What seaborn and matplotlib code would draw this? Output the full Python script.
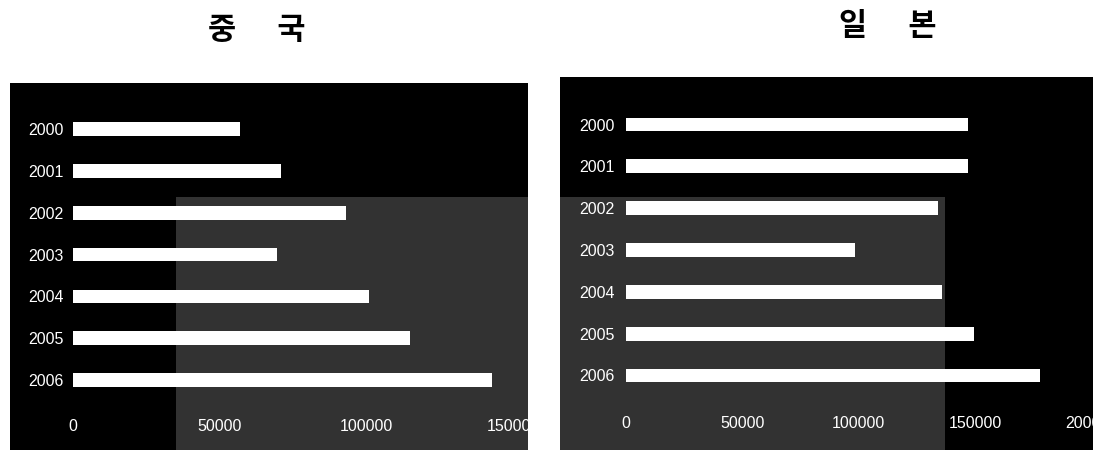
import matplotlib
matplotlib.use("Agg")
import matplotlib.pyplot as plt
import pandas as pd
import seaborn as sns
from matplotlib.patches import Rectangle

# Annual figures, 2000-2006
years = ["2000", "2001", "2002", "2003", "2004", "2005", "2006"]
china = [57000, 71000, 93000, 69500, 101000, 115000, 143000]
japan = [147000, 147000, 134000, 98500, 136000, 149500, 178000]

china_ticks = [0, 50000, 100000, 150000]
japan_ticks = [0, 50000, 100000, 150000, 200000]

title_china = "중      국"
title_japan = "일      본"

sns.set_theme(style="white")
plt.rcParams["font.family"] = ["Liberation Sans", "DejaVu Sans"]

W, H = 1093, 450
fig = plt.figure(figsize=(W / 100, H / 100), dpi=100)
fig.patch.set_facecolor("white")


def box(x0, y0, x1, y1):
    """Pixel box (top-left origin) -> figure fraction rect."""
    return [x0 / W, 1 - y1 / H, (x1 - x0) / W, (y1 - y0) / H]


# black chart areas behind each plot
for rect in (box(10, 83, 528, 450), box(560, 77, 1093, 450)):
    fig.add_artist(Rectangle(rect[:2], rect[2], rect[3], transform=fig.transFigure,
                             facecolor="black", edgecolor="none", zorder=-5))


def draw(ax, values, ticks, xmax, ypad, xpad):
    df = pd.DataFrame({"year": years, "value": values})
    sns.barplot(data=df, x="value", y="year", orient="h", color="white",
                saturation=1, width=0.33, linewidth=0, ax=ax)
    ax.set_xlim(0, xmax)
    ax.set_ylim(6.5, -0.5)
    ax.set_facecolor("none")
    for s in ax.spines.values():
        s.set_visible(False)
    ax.set_xticks(ticks)
    ax.set_xticklabels([str(t) for t in ticks])
    ax.set_xlabel("")
    ax.set_ylabel("")
    ax.grid(False)
    ax.tick_params(axis="both", colors="white", length=0, labelsize=11.5)
    ax.tick_params(axis="y", pad=ypad)
    ax.tick_params(axis="x", pad=xpad)


ax1 = fig.add_axes(box(73, 108.3, 513, 400.9))
draw(ax1, china, china_ticks, 150000, 6.5, 13)

ax2 = fig.add_axes(box(626, 103.6, 1091.4, 396.4))
draw(ax2, japan, japan_ticks, 200000, 8, 14)

fig.text(256.5 / W, 1 - 30 / H, title_china, ha="center", va="center",
         fontsize=22, fontweight="bold", family=["Noto Sans CJK KR", "DejaVu Sans"],
         color="black")
fig.text(887.5 / W, 1 - 26 / H, title_japan, ha="center", va="center",
         fontsize=22, fontweight="bold", family=["Noto Sans CJK KR", "DejaVu Sans"],
         color="black")

# light stamp band across the lower middle of the page
band = box(176, 197, 945, 450)
fig.add_artist(Rectangle(band[:2], band[2], band[3], transform=fig.transFigure,
                         facecolor="white", edgecolor="none", alpha=0.2, zorder=20))

fig.savefig("out.png", dpi=100, facecolor="white")
